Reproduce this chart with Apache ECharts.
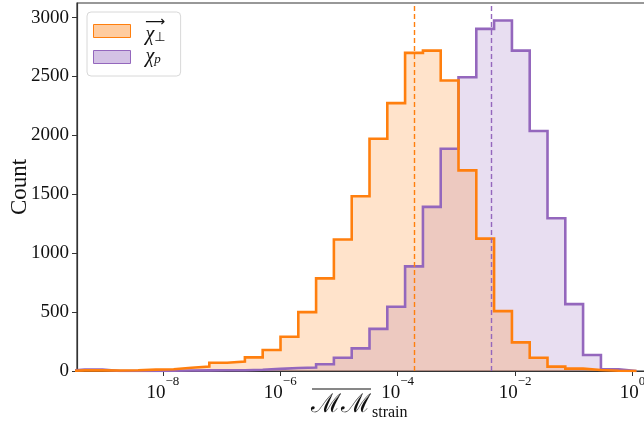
<!DOCTYPE html>
<html><head><meta charset="utf-8">
<script src="https://cdn.jsdelivr.net/npm/echarts@6/dist/echarts.min.js"></script>
<style>html,body{margin:0;padding:0;background:#fff}#c{width:644px;height:430px}</style>
</head><body><div id="c"></div>
<script>
// log10 of bin edges (shared by both histograms)
const binEdgesLog = [-9.635,-9.332,-9.029,-8.726,-8.422,-8.119,-7.816,-7.513,-7.209,-6.906,-6.603,-6.300,-5.996,-5.693,-5.390,-5.087,-4.783,-4.480,-4.177,-3.874,-3.570,-3.267,-2.964,-2.661,-2.358,-2.054,-1.751,-1.448,-1.145,-0.842,-0.538,-0.235,0.068];
// counts for vector chi_perp (orange)
const countsPerp = [5,5,4,6,12,15,28,37,70,80,116,178,291,500,786,1116,1483,1972,2274,2701,2720,2466,1703,1124,508,243,112,37,20,8,2,0];
// counts for chi_p (purple)
const countsP = [12,12,0,0,0,2,4,5,6,6,10,18,25,30,57,113,192,358,545,888,1393,1887,2494,2904,2975,2720,2038,1297,568,136,14,0];
// medians (log10)
const medianPerpLog = -3.705;
const medianPLog = -2.399;
const xTickExps = [-8,-6,-4,-2,0];
const yTicks = [0,500,1000,1500,2000,2500,3000];

const ORANGE = '#ff7f0e', PURPLE = '#9467bd';
const FONT = '"Liberation Serif", "DejaVu Serif", serif';

function stepData(edges, counts){
  const d = [[edges[0], 0]];
  counts.forEach((c, i) => d.push([edges[i], c]));
  d.push([edges[edges.length - 1], 0]);
  return d;
}

const chart = echarts.init(document.getElementById('c'), null, {renderer:'canvas'});
chart.setOption({
  animation: false,
  backgroundColor: '#fff',
  grid: {left: 77, right: -6, top: 3, bottom: 59, show: true, borderColor: '#333', borderWidth: 1.2, backgroundColor: 'transparent', outerBoundsMode: 'none'},
  xAxis: {
    type: 'value', min: -9.463, max: 0.298,
    axisLine: {show: true, onZero: false, lineStyle: {color: '#333', width: 1.2}},
    axisTick: {show: true, customValues: xTickExps, length: 5, lineStyle: {color: '#333', width: 1}},
    splitLine: {show: false},
    axisLabel: {
      customValues: xTickExps, margin: 4, color: '#111', fontFamily: FONT,
      formatter: v => '{b|10}{s|' + (v < 0 ? '\u2212' : '') + Math.abs(v) + '}',
      rich: {
        b: {fontSize: 19, lineHeight: 28, verticalAlign: 'bottom', fontFamily: FONT, color: '#111'},
        s: {fontSize: 13, lineHeight: 12, verticalAlign: 'top', fontFamily: FONT, color: '#111'}
      }
    }
  },
  yAxis: {
    type: 'value', min: 0, max: 3124,
    name: 'Count', nameLocation: 'middle', nameGap: 46, nameMoveOverlap: false,
    nameTextStyle: {fontSize: 23, fontFamily: FONT, color: '#111'},
    axisLine: {show: true, onZero: false, lineStyle: {color: '#333', width: 1.2}},
    axisTick: {show: true, customValues: yTicks, length: 5, lineStyle: {color: '#333', width: 1}},
    splitLine: {show: false},
    axisLabel: {customValues: yTicks, margin: 8, fontSize: 19, fontFamily: FONT, color: '#111', formatter: v => String(v)}
  },
  legend: {
    orient: 'vertical', left: 87, top: 12, padding: [3, 15, 9, 6], itemGap: 2,
    backgroundColor: 'rgba(255,255,255,0.8)', borderColor: '#d8d8d8', borderWidth: 1, borderRadius: 4,
    itemWidth: 37, itemHeight: 13, selectedMode: false,
    data: [
      {name: 'perp', icon: 'rect', itemStyle: {color: 'rgba(255,127,14,0.4)', borderColor: ORANGE, borderWidth: 1}},
      {name: 'p', icon: 'rect', itemStyle: {color: 'rgba(148,103,189,0.4)', borderColor: PURPLE, borderWidth: 1}}
    ],
    formatter: n => n === 'perp' ? '{a|\u27F6}\n{c|\u03C7}{s|\u22A5}' : '{c|\u03C7}{t|p}',
    textStyle: {
      fontFamily: FONT, color: '#111',
      rich: {
        a: {fontSize: 14, lineHeight: 8, width: 14, align: 'center', padding: [0, 0, 0, 9], fontFamily: 'DejaVu Sans', color: '#111'},
        c: {fontSize: 20, lineHeight: 18, fontStyle: 'italic', padding: [0, 0, 0, 10], fontFamily: FONT, color: '#111'},
        s: {fontSize: 13, lineHeight: 12, verticalAlign: 'bottom', fontFamily: 'DejaVu Sans', color: '#111'},
        t: {fontSize: 13, lineHeight: 12, verticalAlign: 'bottom', fontStyle: 'italic', fontFamily: FONT, color: '#111'}
      }
    }
  },
  series: [
    {name: 'p', type: 'line', step: 'end', data: stepData(binEdgesLog, countsP), symbol: 'none', silent: true, z: 1,
     itemStyle: {color: PURPLE}, lineStyle: {opacity: 0, width: 0}, areaStyle: {color: 'rgba(148,103,189,0.31)'}},
    {name: 'perp', type: 'line', step: 'end', data: stepData(binEdgesLog, countsPerp), symbol: 'none', silent: true, z: 2,
     itemStyle: {color: ORANGE}, lineStyle: {opacity: 0, width: 0}, areaStyle: {color: 'rgba(255,127,14,0.31)'}},
    {name: 'pLine', type: 'line', step: 'end', data: stepData(binEdgesLog, countsP), symbol: 'none', silent: true, z: 3,
     lineStyle: {color: PURPLE, width: 2.6, join: 'miter'},
     markLine: {silent: true, symbol: ['none', 'none'], label: {show: false}, animation: false,
       lineStyle: {color: PURPLE, type: [5, 3], width: 1.4}, data: [{xAxis: medianPLog}]}},
    {name: 'perpLine', type: 'line', step: 'end', data: stepData(binEdgesLog, countsPerp), symbol: 'none', silent: true, z: 4,
     lineStyle: {color: ORANGE, width: 2.6, join: 'miter'},
     markLine: {silent: true, symbol: ['none', 'none'], label: {show: false}, animation: false,
       lineStyle: {color: ORANGE, type: [5, 3], width: 1.4}, data: [{xAxis: medianPerpLog}]}}
  ],
  graphic: [
    {type: 'line', shape: {x1: 312, y1: 389, x2: 371, y2: 389}, style: {stroke: '#111', lineWidth: 1.2}, silent: true},
    {type: 'text', left: 311, top: 392, style: {text: '\u2133\u2133', font: '26px "DejaVu Serif", serif', fill: '#111'}, silent: true},
    {type: 'text', left: 372, top: 405, style: {text: 'strain', font: '16px "Liberation Serif", serif', fill: '#111'}, silent: true}
  ]
});
</script>
</body></html>
